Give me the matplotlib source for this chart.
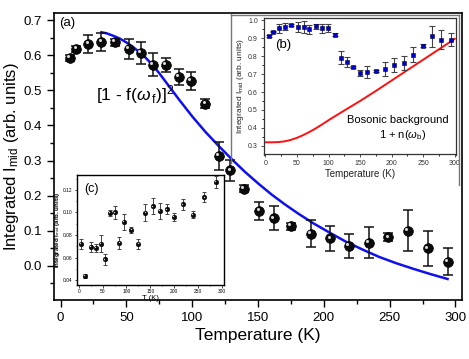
import matplotlib
matplotlib.use("Agg")
import matplotlib.pyplot as plt
from matplotlib.transforms import offset_copy
from matplotlib.ticker import MultipleLocator

plt.rcParams['font.family'] = ['Liberation Sans', 'DejaVu Sans']
plt.rcParams['mathtext.fontset'] = 'custom'
plt.rcParams['mathtext.rm'] = 'Liberation Sans'
plt.rcParams['mathtext.it'] = 'Liberation Sans:italic'

# ---- main panel (a) data ----
T_main = [7, 12, 21, 31, 41, 52, 61, 70, 80, 90, 99, 110, 120, 129, 139, 151, 162,
          175, 190, 205, 219, 234, 249, 264, 279, 294]
I_main = [0.593, 0.618, 0.633, 0.638, 0.638, 0.619, 0.607, 0.573, 0.573, 0.538, 0.527,
          0.462, 0.313, 0.272, 0.219, 0.157, 0.135, 0.113, 0.091, 0.078, 0.056, 0.066,
          0.081, 0.100, 0.049, 0.011]
E_main = [0.008, 0.009, 0.026, 0.026, 0.010, 0.028, 0.032, 0.033, 0.021, 0.023, 0.025,
          0.013, 0.039, 0.029, 0.010, 0.026, 0.034, 0.010, 0.038, 0.036, 0.035, 0.044,
          0.012, 0.058, 0.051, 0.038]
T_fit = [31, 35, 40, 45, 50, 55, 60, 65, 70, 75, 80, 85, 90, 95, 100, 110, 120, 130,
         140, 150, 160, 170, 180, 192, 205, 217, 230, 242, 255, 268, 281, 294]
I_fit = [0.666, 0.663, 0.656, 0.648, 0.637, 0.624, 0.609, 0.592, 0.572, 0.549, 0.524,
         0.499, 0.474, 0.450, 0.426, 0.382, 0.342, 0.304, 0.268, 0.235, 0.204, 0.176,
         0.150, 0.121, 0.093, 0.068, 0.045, 0.025, 0.007, -0.009, -0.024, -0.038]

# ---- inset (b) data ----
T_b = [6, 11.5, 21, 30.5, 41, 51.6, 61, 69.5, 80, 90, 99, 110.5, 120, 129, 139, 150,
       161, 175, 190, 204, 219, 234, 249, 264, 279, 294]
I_b = [0.910, 0.937, 0.954, 0.963, 0.972, 0.963, 0.963, 0.950, 0.966, 0.954, 0.959,
       0.920, 0.791, 0.769, 0.739, 0.705, 0.713, 0.718, 0.728, 0.750, 0.761, 0.808,
       0.858, 0.910, 0.892, 0.892]
E_b = [0.005, 0.005, 0.023, 0.020, 0.006, 0.026, 0.033, 0.025, 0.013, 0.023, 0.022,
       0.008, 0.035, 0.028, 0.006, 0.017, 0.034, 0.006, 0.040, 0.038, 0.037, 0.043,
       0.010, 0.060, 0.052, 0.037]
T_bg = [0, 10, 20, 30, 40, 50, 60, 70, 80, 90, 100, 125, 150, 175, 200, 225, 250, 275, 300]
I_bg = [0.320, 0.320, 0.321, 0.325, 0.333, 0.345, 0.360, 0.378, 0.398, 0.420, 0.443,
        0.497, 0.550, 0.606, 0.664, 0.722, 0.780, 0.838, 0.896]

# ---- inset (c) data ----
T_c = [4, 12.6, 25, 35, 45.6, 54.7, 65, 75.5, 85, 95, 110, 125, 140, 155, 170, 184.5,
       199, 219, 239, 264, 288]
I_c = [0.0723, 0.0436, 0.0693, 0.0687, 0.0723, 0.0584, 0.0998, 0.1002, 0.0729, 0.0916,
       0.0844, 0.0720, 0.0998, 0.1055, 0.1013, 0.1028, 0.0963, 0.1073, 0.0980, 0.1135,
       0.1271]
E_c = [0.0043, 0.0020, 0.0046, 0.0036, 0.0073, 0.0050, 0.0025, 0.0060, 0.0050, 0.0068,
       0.0030, 0.0043, 0.0073, 0.0070, 0.0073, 0.0043, 0.0036, 0.0050, 0.0033, 0.0046,
       0.0056]

fig = plt.figure(figsize=(4.69, 3.59), dpi=100)
W, H = 469.0, 359.0

def frac(l, t, r, b):
    return [l / W, 1 - b / H, (r - l) / W, (b - t) / H]

# ================= main axes =================
ax = fig.add_axes(frac(54, 13, 462, 300))
ax.plot(T_fit, I_fit, color='#1010ee', lw=1.8, zorder=2, solid_joinstyle='round')
ax.errorbar(T_main, I_main, yerr=E_main, fmt='none', ecolor='#111111', elinewidth=1.1,
            capsize=3.6, capthick=1.1, zorder=3)
ax.plot(T_main, I_main, 'o', ms=7.0, mfc='#0a0a0a', mec='#000000', mew=0.5, zorder=4)
hl = offset_copy(ax.transData, fig=fig, x=-1.2, y=1.2, units='points')
ax.plot(T_main, I_main, 'o', ms=2.2, mfc='#d8d8d8', mec='none', transform=hl, zorder=5)

ax.set_xlim(-5, 305)
ax.set_ylim(-0.098, 0.721)
ax.set_xticks([0, 50, 100, 150, 200, 250, 300])
ax.xaxis.set_minor_locator(MultipleLocator(25))
ax.set_yticks([0.0, 0.1, 0.2, 0.3, 0.4, 0.5, 0.6, 0.7])
ax.yaxis.set_minor_locator(MultipleLocator(0.05))
ax.tick_params(which='major', direction='out', length=5, width=1.0, labelsize=9.5,
               top=False, right=False)
ax.tick_params(which='minor', direction='out', length=3, width=1.0, top=False, right=False)
for s in ax.spines.values():
    s.set_linewidth(1.2)
ax.set_xlabel('Temperature (K)', fontsize=12.5, labelpad=3)
ax.set_ylabel(r'Integrated I$_{\mathrm{mid}}$ (arb. units)', fontsize=12, labelpad=2)
ax.text(0.012, 0.985, '(a)', transform=ax.transAxes, fontsize=9.5, va='top', ha='left')
ax.text(57, 0.487, r'[1 - f($\omega_{\,\mathrm{f}}$)]$^{2}$', fontsize=12.5, ha='center',
        va='center')

# ================= inset (b) =================
fig.add_artist(plt.Line2D([231 / W, 231 / W], [1 - 14 / H, 1 - 163 / H],
                          transform=fig.transFigure, color='#777777', lw=1.0))
fig.add_artist(plt.Line2D([231 / W, 459 / W], [1 - 15 / H, 1 - 15 / H],
                          transform=fig.transFigure, color='#777777', lw=1.0))
fig.add_artist(plt.Line2D([459 / W, 459 / W], [1 - 15 / H, 1 - 185 / H],
                          transform=fig.transFigure, color='#777777', lw=1.0))

axb = fig.add_axes(frac(263.5, 17.5, 456, 154.5))
axb.plot(T_bg, I_bg, color='#ff1010', lw=1.4, zorder=2)
axb.errorbar(T_b, I_b, yerr=E_b, fmt='none', ecolor='#444444', elinewidth=0.8,
             capsize=2.0, capthick=0.8, zorder=3)
axb.plot(T_b, I_b, 's', ms=3.0, mfc='#0000cc', mec='#000044', mew=0.4, zorder=4)
axb.set_xlim(-3, 302)
axb.set_ylim(0.252, 1.015)
axb.set_xticks([0, 50, 100, 150, 200, 250, 300])
axb.xaxis.set_minor_locator(MultipleLocator(25))
axb.set_yticks([0.3, 0.4, 0.5, 0.6, 0.7, 0.8, 0.9, 1.0])
axb.yaxis.set_minor_locator(MultipleLocator(0.05))
axb.tick_params(which='major', direction='out', length=2.5, width=0.6, labelsize=5,
                pad=1.5, colors='#333333')
axb.tick_params(which='minor', direction='out', length=1.5, width=0.6)
for s in axb.spines.values():
    s.set_linewidth(0.9)
    s.set_color('#333333')
axb.set_xlabel('Temperature (K)', fontsize=7, labelpad=1.5, color='#222222')
axb.set_ylabel(r'Integrated I$_{\mathrm{mid}}$ (arb. units)', fontsize=6, labelpad=1.5,
               color='#222222')
axb.text(0.06, 0.80, '(b)', transform=axb.transAxes, fontsize=9.5, va='center')
axb.text(0.96, 0.255, 'Bosonic background', transform=axb.transAxes, fontsize=8,
         ha='right', va='center')
axb.text(0.72, 0.14, r'1 + n($\omega_{\mathrm{b}}$)', transform=axb.transAxes, fontsize=8,
         ha='center', va='center')

# ================= inset (c) =================
axc = fig.add_axes(frac(76.5, 175, 224, 285))
axc.errorbar(T_c, I_c, yerr=E_c, fmt='none', ecolor='#444444', elinewidth=0.7,
             capsize=1.6, capthick=0.7, zorder=3)
axc.plot(T_c, I_c, 'o', ms=3.4, mfc='#0a0a0a', mec='#000000', mew=0.3, zorder=4)
hlc = offset_copy(axc.transData, fig=fig, x=-0.5, y=0.5, units='points')
axc.plot(T_c, I_c, 'o', ms=1.0, mfc='#d0d0d0', mec='none', transform=hlc, zorder=5)
axc.set_xlim(-5, 305)
axc.set_ylim(0.0356, 0.1333)
axc.set_xticks([0, 50, 100, 150, 200, 250, 300])
axc.xaxis.set_minor_locator(MultipleLocator(25))
axc.set_yticks([0.04, 0.06, 0.08, 0.10, 0.12])
axc.set_yticklabels(['0.04', '0.06', '0.08', '0.10', '0.12'])
axc.yaxis.set_minor_locator(MultipleLocator(0.01))
axc.tick_params(which='major', direction='out', length=1.8, width=0.5, labelsize=3.5,
                pad=1)
axc.tick_params(which='minor', direction='out', length=1.0, width=0.5)
for s in axc.spines.values():
    s.set_linewidth(1.0)
axc.set_xlabel('T (K)', fontsize=5.5, labelpad=0.5)
axc.set_ylabel(r'Integrated I$_{\mathrm{mid}}$ (arb. units)', fontsize=4.5, labelpad=1,
               fontweight='bold')
axc.text(0.05, 0.93, '(c)', transform=axc.transAxes, fontsize=9, va='top')

fig.savefig('out.png', dpi=100)
